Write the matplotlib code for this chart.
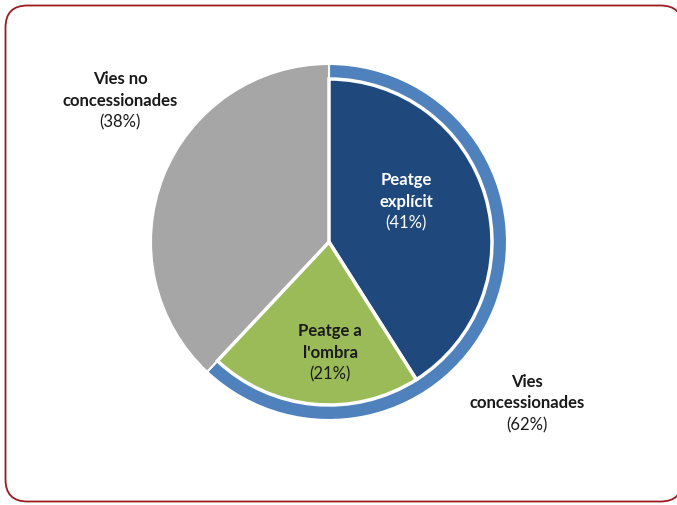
import matplotlib.pyplot as plt
from matplotlib.patches import FancyBboxPatch

# data
inner_labels = ['Peatge\nexplícit', 'Peatge a\nl\'ombra']
inner_values = [41, 21]
inner_colors = ['#1F497D', '#9BBB59']
inner_text_colors = ['white', '#1a1a1a']

outer_labels = ['Vies\nconcessionades', 'Vies no\nconcessionades']
outer_values = [62, 38]
outer_colors = ['#4F81BD', '#A6A6A6']

W, H = 677, 505
fig = plt.figure(figsize=(W / 100, H / 100), dpi=100)
ax = fig.add_axes([0, 0, 1, 1])
ax.set_xlim(0, W)
ax.set_ylim(0, H)
ax.set_aspect('equal')
ax.axis('off')

# frame
frame = FancyBboxPatch((5.5, 3.5), 677, 496, boxstyle='round,pad=0,rounding_size=22',
                       facecolor='white', edgecolor='#9B1B1F', linewidth=1.3, zorder=0)
ax.add_patch(frame)

cx, cy = 329, H - 242
R_out, R_in = 178, 163

ax.pie(outer_values, colors=outer_colors, startangle=90, counterclock=False,
       center=(cx, cy), radius=R_out, frame=True,
       wedgeprops=dict(edgecolor='white', linewidth=1.5))
ax.pie([v / 100 for v in inner_values], colors=inner_colors, startangle=90, counterclock=False,
       normalize=False, center=(cx, cy), radius=R_in, frame=True,
       wedgeprops=dict(edgecolor='white', linewidth=2.5))
ax.set_xlim(0, W)
ax.set_ylim(0, H)
ax.axis('off')

font = 'Lato'


def put_label(x, y, name, pct, color):
    n = name.count('\n') + 1
    for i, line in enumerate(name.split('\n')):
        ax.text(x, H - (y + 21.5 * i), line, ha='center', va='center', fontsize=12,
                fontweight='bold', color=color, family=font)
    ax.text(x, H - (y + 21.5 * n), f'({pct}%)', ha='center', va='center', fontsize=12,
            color=color, family=font)


put_label(406, 180, inner_labels[0], inner_values[0], inner_text_colors[0])
put_label(330, 331, inner_labels[1], inner_values[1], inner_text_colors[1])
put_label(527, 382, outer_labels[0], outer_values[0], '#1a1a1a')
put_label(120, 79, outer_labels[1], outer_values[1], '#1a1a1a')

fig.savefig('out.png', dpi=100)
